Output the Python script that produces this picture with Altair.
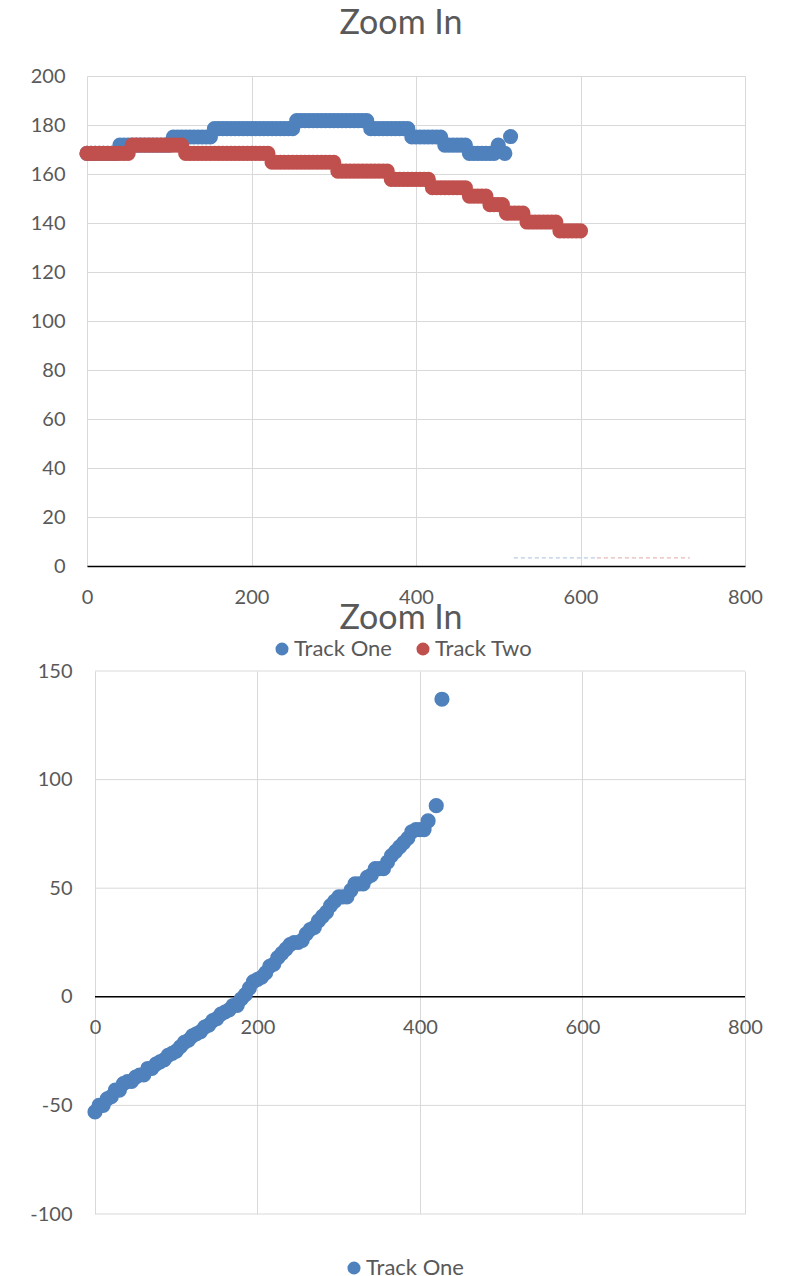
import altair as alt
import pandas as pd

# ---------------- data ----------------
X_TICKS = [0, 200, 400, 600, 800]
TOP_Y_TICKS = [0, 20, 40, 60, 80, 100, 120, 140, 160, 180, 200]
BOT_Y_TICKS = [-100, -50, 0, 50, 100, 150]
SERIES = ["Track One", "Track Two"]
COLORS = ["#4F81BD", "#C0504D"]

# top chart, Track One
t1_x = [0, 5, 10, 15, 20, 25, 30, 35, 40, 45, 50, 55, 60, 65, 70, 75, 80, 85, 90, 95,
        100, 105, 110, 115, 120, 125, 130, 135, 140, 145, 150, 155, 160, 165, 170, 175,
        180, 185, 190, 195, 200, 205, 210, 215, 220, 225, 230, 235, 240, 245, 250, 255,
        260, 265, 270, 275, 280, 285, 290, 295, 300, 305, 310, 315, 320, 325, 330, 335,
        340, 345, 350, 355, 360, 365, 370, 375, 380, 385, 390, 395, 400, 405, 410, 415,
        420, 425, 430, 435, 440, 445, 450, 455, 460, 465, 470, 475, 480, 485, 490, 495,
        500, 508, 515]
t1_y = [168.4, 168.4, 168.4, 168.4, 168.4, 168.4, 168.4, 168.4,
        171.8, 171.8, 171.8, 171.8, 171.8, 171.8, 171.8, 171.8, 171.8, 171.8, 171.8, 171.8, 171.8,
        175.1, 175.1, 175.1, 175.1, 175.1, 175.1, 175.1, 175.1, 175.1, 175.1,
        178.5, 178.5, 178.5, 178.5, 178.5, 178.5, 178.5, 178.5, 178.5, 178.5,
        178.5, 178.5, 178.5, 178.5, 178.5, 178.5, 178.5, 178.5, 178.5, 178.5,
        181.8, 181.8, 181.8, 181.8, 181.8, 181.8, 181.8, 181.8, 181.8,
        181.8, 181.8, 181.8, 181.8, 181.8, 181.8, 181.8, 181.8, 181.8,
        178.5, 178.5, 178.5, 178.5, 178.5, 178.5, 178.5, 178.5, 178.5, 178.5,
        175.1, 175.1, 175.1, 175.1, 175.1, 175.1, 175.1, 175.1,
        171.8, 171.8, 171.8, 171.8, 171.8, 171.8,
        168.4, 168.4, 168.4, 168.4, 168.4, 168.4, 168.4,
        171.8, 168.4, 175.3]

# top chart, Track Two
t2_x = [0, 5, 10, 15, 20, 25, 30, 35, 40, 45, 50, 55, 60, 65, 70, 75, 80, 85, 90, 95,
        100, 105, 110, 115, 120, 125, 130, 135, 140, 145, 150, 155, 160, 165, 170, 175,
        180, 185, 190, 195, 200, 205, 210, 215, 220, 225, 230, 235, 240, 245, 250, 255,
        260, 265, 270, 275, 280, 285, 290, 295, 300, 305, 310, 315, 320, 325, 330, 335,
        340, 345, 350, 355, 360, 365, 370, 375, 380, 385, 390, 395, 400, 405, 410, 415,
        420, 425, 430, 435, 440, 445, 450, 455, 460, 465, 470, 475, 480, 485, 490, 495,
        500, 505, 510, 515, 520, 525, 530, 535, 540, 545, 550, 555, 560, 565, 570, 575,
        580, 585, 590, 595, 600]
t2_y = [168.4, 168.4, 168.4, 168.4, 168.4, 168.4, 168.4, 168.4, 168.4, 168.4, 168.4,
        171.8, 171.8, 171.8, 171.8, 171.8, 171.8, 171.8, 171.8, 171.8, 171.8, 171.8, 171.8, 171.8,
        168.4, 168.4, 168.4, 168.4, 168.4, 168.4, 168.4, 168.4, 168.4, 168.4, 168.4,
        168.4, 168.4, 168.4, 168.4, 168.4, 168.4, 168.4, 168.4, 168.4, 168.4,
        164.8, 164.8, 164.8, 164.8, 164.8, 164.8, 164.8, 164.8,
        164.8, 164.8, 164.8, 164.8, 164.8, 164.8, 164.8, 164.8,
        161.2, 161.2, 161.2, 161.2, 161.2, 161.2, 161.2, 161.2, 161.2, 161.2, 161.2, 161.2, 161.2,
        157.8, 157.8, 157.8, 157.8, 157.8, 157.8, 157.8, 157.8, 157.8, 157.8,
        154.4, 154.4, 154.4, 154.4, 154.4, 154.4, 154.4, 154.4, 154.4,
        151.0, 151.0, 151.0, 151.0, 151.0,
        147.5, 147.5, 147.5, 147.5,
        144.0, 144.0, 144.0, 144.0, 144.0,
        140.4, 140.4, 140.4, 140.4, 140.4, 140.4, 140.4, 140.4,
        136.8, 136.8, 136.8, 136.8, 136.8, 136.8]

# faint dashed strokes near the bottom of the top chart (one per series)
dash_start = [519, 620]
dash_end = [620, 733]
dash_level = [3.3, 3.3]

# bottom chart, Track One
b1_x = [0, 5, 10, 15, 20, 25, 30, 35, 40, 45, 50, 55, 60, 65, 70, 75, 80, 85, 90, 95,
        100, 105, 110, 115, 120, 125, 130, 135, 140, 145, 150, 155, 160, 165, 170, 175,
        180, 185, 190, 195, 200, 205, 210, 215, 220, 225, 230, 235, 240, 245, 250, 255,
        260, 265, 270, 275, 280, 285, 290, 295, 300, 305, 310, 315, 320, 325, 330, 335,
        340, 345, 350, 355, 360, 365, 370, 375, 380, 385, 390, 395, 400, 405, 410,
        420, 427]
b1_y = [-53, -50, -50, -47, -46, -43, -43, -40, -39, -39, -37, -36, -36, -33, -33, -31,
        -30, -29, -27, -26, -25, -23, -21, -20, -18, -17, -16, -14, -13, -11, -10, -8,
        -7, -6, -4, -4, -1, 1, 4, 7, 8, 9, 11, 14, 15, 18, 20, 22, 24, 25, 25, 26,
        29, 31, 32, 35, 37, 39, 42, 44, 46, 46, 46, 49, 52, 52, 52, 55, 56, 59, 59,
        59, 62, 65, 67, 69, 71, 73, 76, 77, 77, 77, 81,
        88, 137]

# ---------------- style ----------------
FONT = "Lato"
TXT = "#595959"
GRID = "#D9D9D9"
LABEL_SIZE = 20
LEGEND_SIZE = 22
DOT = 230

top_df = pd.DataFrame({
    "x": t1_x + t2_x,
    "y": t1_y + t2_y,
    "series": [SERIES[0]] * len(t1_x) + [SERIES[1]] * len(t2_x),
    "order": list(range(len(t1_x) + len(t2_x))),
})
bot_df = pd.DataFrame({"x": b1_x, "y": b1_y, "series": [SERIES[0]] * len(b1_x)})
grid_df = pd.DataFrame({"y": BOT_Y_TICKS})

title_params = dict(text="Zoom In", anchor="middle", frame="group", dx=-15,
                    offset=-2, fontSize=34, font=FONT, color=TXT,
                    fontWeight="normal", baseline="alphabetic")

LABEL_EXPR = "'' + datum.value"

# ---------------- top chart ----------------
top_x = alt.X("x:Q", title=None,
              scale=alt.Scale(domain=[0, 800], nice=False),
              axis=alt.Axis(values=X_TICKS, grid=True, gridColor=GRID, ticks=False,
                            domain=True, domainColor="#000000", domainWidth=1.5,
                            labelPadding=21, labelFlush=False, labelExpr=LABEL_EXPR))
top_y = alt.Y("y:Q", title=None,
              scale=alt.Scale(domain=[0, 200], nice=False),
              axis=alt.Axis(values=TOP_Y_TICKS, grid=True, gridColor=GRID, ticks=False,
                            domain=False, labelPadding=22, labelExpr=LABEL_EXPR))

top_points = alt.Chart(top_df).mark_circle(size=DOT, opacity=1).encode(
    x=top_x, y=top_y,
    color=alt.Color("series:N", scale=alt.Scale(domain=SERIES, range=COLORS),
                    legend=alt.Legend(orient="none", legendX=184, legendY=562,
                                      direction="horizontal", title=None,
                                      symbolType="circle", symbolSize=170,
                                      labelFontSize=LEGEND_SIZE, labelFont=FONT,
                                      labelColor=TXT, columnPadding=20,
                                      labelOffset=1, padding=0)),
    order=alt.Order("order:Q"),
)

dash_layers = []
for i in range(len(dash_start)):
    d = pd.DataFrame({"x": [dash_start[i]], "x2": [dash_end[i]], "y": [dash_level[i]]})
    dash_layers.append(
        alt.Chart(d).mark_rule(strokeDash=[4, 3], strokeWidth=1, opacity=0.5,
                               color=COLORS[i]).encode(
            x=alt.X("x:Q"), x2="x2:Q", y=alt.Y("y:Q"))
    )

top = alt.layer(*dash_layers, top_points).properties(
    width=658, height=490, title=alt.TitleParams(**title_params))

# ---------------- bottom chart ----------------
bx_scale = alt.Scale(domain=[-9.846, 800], nice=False)
by_scale = alt.Scale(domain=[-100, 150], nice=False)

bot_points = alt.Chart(bot_df).mark_circle(size=DOT, opacity=1).encode(
    x=alt.X("x:Q", title=None, scale=bx_scale,
            axis=alt.Axis(values=X_TICKS, grid=True, gridColor=GRID, ticks=False,
                          domain=False, offset=-217, labelPadding=20,
                          labelFlush=False, labelExpr=LABEL_EXPR)),
    y=alt.Y("y:Q", title=None, scale=by_scale,
            axis=alt.Axis(values=BOT_Y_TICKS, grid=False, ticks=False,
                          domain=False, labelPadding=15, labelExpr=LABEL_EXPR)),
    color=alt.Color("series:N", scale=alt.Scale(domain=[SERIES[0]], range=[COLORS[0]]),
                    legend=alt.Legend(orient="none", legendX=256, legendY=586,
                                      title=None, symbolType="circle", symbolSize=170,
                                      labelFontSize=LEGEND_SIZE, labelFont=FONT,
                                      labelColor=TXT, labelOffset=1, padding=0)),
)
bot_grid = alt.Chart(grid_df).mark_rule(color=GRID, strokeWidth=1).encode(
    y=alt.Y("y:Q", scale=by_scale), x=alt.datum(0), x2=alt.datum(800))
bot_zero = alt.Chart(pd.DataFrame({"y": [0]})).mark_rule(color="#000000", strokeWidth=1.5).encode(
    y=alt.Y("y:Q", scale=by_scale), x=alt.datum(0), x2=alt.datum(800))

bottom = alt.layer(bot_grid, bot_zero, bot_points).properties(
    width=658, height=543, title=alt.TitleParams(**title_params))

chart = alt.vconcat(top, bottom, spacing=105, bounds="flush").resolve_scale(
    x="independent", y="independent", color="independent"
).properties(
    padding={"left": 29, "top": 7, "right": 5, "bottom": 0}
).configure_view(stroke=None).configure_axis(
    labelFont=FONT, labelFontSize=LABEL_SIZE, labelColor=TXT
)

chart.save("out.html", embed_options={"renderer": "svg", "actions": False})
